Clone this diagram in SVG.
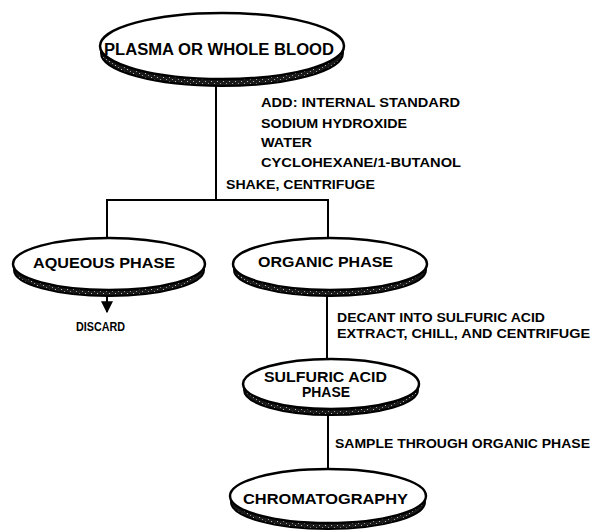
<svg xmlns="http://www.w3.org/2000/svg" width="594" height="532" viewBox="0 0 594 532">
<defs>
<pattern id="stip" width="6" height="4" patternUnits="userSpaceOnUse">
<rect width="6" height="4" fill="#1a1a1a"/>
<rect x="1" y="1" width="1" height="1" fill="#bbb"/>
<rect x="4" y="3" width="1" height="1" fill="#999"/>
</pattern>
<marker id="arr" viewBox="0 0 10 10" refX="9" refY="5" markerWidth="6" markerHeight="6" orient="auto">
<path d="M0,0 L10,5 L0,10 z" fill="#000"/>
</marker>
</defs>
<style>
.sh{fill:url(#stip);stroke:#000;stroke-width:2}
.top{fill:#fff;stroke:#000;stroke-width:2.5}
.nt{font-family:"Liberation Sans",Arial,sans-serif;font-weight:bold;font-size:15px;fill:#000}
.lb{font-family:"Liberation Sans",Arial,sans-serif;font-weight:bold;font-size:12.5px;fill:#000}
.ln{stroke:#000;stroke-width:2;fill:none}
</style>
<rect width="594" height="532" fill="#fff"/>
<g id="connectors">
<path class="ln" d="M216,80 V200 M107,200 H328 M107,199 V238 M328,199 V238"/>
<path class="ln" d="M107,296 V312" marker-end="url(#arr)"/>
<path class="ln" d="M327,296 V360"/>
<path class="ln" d="M328,414 V470"/>
</g>
<g id="plasma">
<ellipse class="sh" cx="222" cy="53" rx="121" ry="33"/>
<ellipse class="top" cx="222" cy="46" rx="122" ry="33"/>
<text class="nt" x="104" y="55" textLength="230" lengthAdjust="spacingAndGlyphs" style="font-size:16px">PLASMA OR WHOLE BLOOD</text>
</g>
<g id="labels1">
<text class="lb" x="261" y="107" textLength="199" lengthAdjust="spacingAndGlyphs">ADD: INTERNAL STANDARD</text>
<text class="lb" x="261" y="128" textLength="146" lengthAdjust="spacingAndGlyphs">SODIUM HYDROXIDE</text>
<text class="lb" x="261" y="147" textLength="51" lengthAdjust="spacingAndGlyphs">WATER</text>
<text class="lb" x="261" y="167" textLength="200" lengthAdjust="spacingAndGlyphs">CYCLOHEXANE/1-BUTANOL</text>
<text class="lb" x="226" y="189" textLength="149" lengthAdjust="spacingAndGlyphs">SHAKE, CENTRIFUGE</text>
</g>
<g id="aqueous">
<ellipse class="sh" cx="109" cy="270" rx="95" ry="26"/>
<ellipse class="top" cx="109" cy="264" rx="96" ry="26"/>
<text class="nt" x="33" y="268" textLength="142" lengthAdjust="spacingAndGlyphs">AQUEOUS PHASE</text>
</g>
<g id="discard">
<text class="lb" x="76" y="331" textLength="49" lengthAdjust="spacingAndGlyphs" style="font-size:12px">DISCARD</text>
</g>
<g id="organic">
<ellipse class="sh" cx="330" cy="270" rx="96" ry="26"/>
<ellipse class="top" cx="330" cy="264" rx="97" ry="26"/>
<text class="nt" x="258" y="267" textLength="135" lengthAdjust="spacingAndGlyphs">ORGANIC PHASE</text>
</g>
<g id="labels2">
<text class="lb" x="337" y="322" textLength="208" lengthAdjust="spacingAndGlyphs">DECANT INTO SULFURIC ACID</text>
<text class="lb" x="337" y="338" textLength="253" lengthAdjust="spacingAndGlyphs">EXTRACT, CHILL, AND CENTRIFUGE</text>
</g>
<g id="sulfuric">
<ellipse class="sh" cx="331" cy="390" rx="87" ry="25"/>
<ellipse class="top" cx="331" cy="384" rx="88" ry="25"/>
<text class="nt" x="264" y="382" textLength="123" lengthAdjust="spacingAndGlyphs" style="font-size:14px">SULFURIC ACID</text>
<text class="nt" x="302" y="397" textLength="48" lengthAdjust="spacingAndGlyphs" style="font-size:14px">PHASE</text>
</g>
<g id="labels3">
<text class="lb" x="335" y="448" textLength="255" lengthAdjust="spacingAndGlyphs">SAMPLE THROUGH ORGANIC PHASE</text>
</g>
<g id="chromatography">
<ellipse class="sh" cx="328" cy="502" rx="97" ry="27"/>
<ellipse class="top" cx="328" cy="496" rx="98" ry="27"/>
<text class="nt" x="243" y="504" textLength="165" lengthAdjust="spacingAndGlyphs">CHROMATOGRAPHY</text>
</g>
</svg>
